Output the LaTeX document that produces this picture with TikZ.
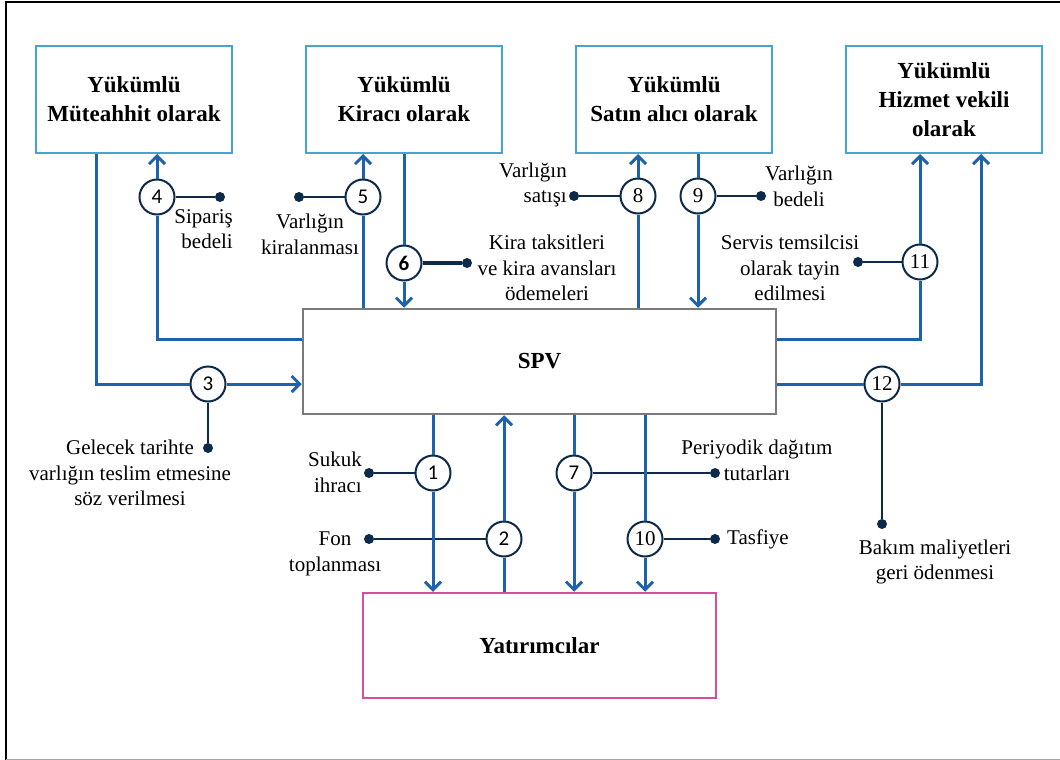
\documentclass[tikz,border=0pt]{standalone}
\usepackage{fontspec}
\setmainfont{Liberation Serif}
\newfontfamily\numsans{Carlito}
\usetikzlibrary{arrows.meta,positioning}
\definecolor{flowc}{RGB}{30,98,172}
\definecolor{navyc}{RGB}{14,42,74}
\definecolor{partyc}{RGB}{70,165,208}
\definecolor{spvc}{RGB}{122,122,122}
\definecolor{invc}{RGB}{216,78,158}

\begin{document}
\begin{tikzpicture}[x=1pt,y=-1pt,>={Straight Barb[length=8pt,width=16pt]},font=\fontsize{21}{25.5}\selectfont]
\tikzstyle{party}=[draw=partyc,line width=2pt,minimum width=196pt,minimum height=107pt,align=center,font=\fontsize{23}{29}\selectfont\bfseries]
\tikzstyle{flw}=[flowc,line width=3pt]
\tikzstyle{num}=[circle,draw=navyc,line width=2pt,minimum size=35pt,inner sep=0pt,font=\fontsize{21}{21}\selectfont]
\tikzstyle{numsf}=[num,font=\numsans\fontsize{21}{21}\selectfont]
\tikzstyle{pin}=[navyc,line width=1.8pt]
\tikzstyle{dot}=[circle,fill=navyc,inner sep=0pt,minimum size=10pt]
\tikzstyle{lbl}=[align=center,inner sep=0pt]
\useasboundingbox (0,0) rectangle (1060,760);
\draw[line width=2.5pt] (6,760) -- (6,2) -- (1060,2);
\draw[black!35,line width=1pt] (6,759) -- (1060,759);
% parties
\node[party] (a) at (134,99.5) {Yükümlü\\Müteahhit olarak};
\node[party] (b) at (404,99.5) {Yükümlü\\Kiracı olarak};
\node[party] (c) at (674,99.5) {Yükümlü\\Satın alıcı olarak};
\node[party] (d) at (944,99.5) {Yükümlü\\Hizmet vekili\\olarak};
\node[draw=spvc,line width=2.5pt,minimum width=473pt,minimum height=105pt,font=\fontsize{23}{29}\selectfont\bfseries] (s) at (539.5,361.5) {SPV};
\node[draw=invc,line width=2.5pt,minimum width=353pt,minimum height=105pt,font=\fontsize{23}{29}\selectfont\bfseries] (y) at (539.5,645.5) {Yatırımcılar};
% numbered steps
\node[numsf] (c1) at (433,473) {1};
\node[numsf] (c2) at (504,539) {2};
\node[numsf] (c3) at (208,384) {3};
\node[numsf] (c4) at (157,197) {4};
\node[numsf] (c5) at (363,197) {5};
\node[numsf,font=\numsans\bfseries\fontsize{21}{21}\selectfont] (c6) at (404,263) {6};
\node[numsf] (c7) at (574,473) {7};
\node[num] (c8) at (638,196) {8};
\node[num] (c9) at (698,196) {9};
\node[num] (c10) at (645,539) {10};
\node[num] (c11) at (920,262) {11};
\node[num] (c12) at (882,384) {12};
% pins
\node[dot] (d1) at (369,473) {};
\node[dot] (d2) at (369,539) {};
\node[dot] (d3) at (208,448) {};
\node[dot] (d4) at (220,197) {};
\node[dot] (d5) at (299,197) {};
\node[dot] (d6) at (467,263) {};
\node[dot] (d7) at (715,473) {};
\node[dot] (d8) at (574,196) {};
\node[dot] (d9) at (761,196) {};
\node[dot] (d10) at (715,539) {};
\node[dot] (d11) at (858,262) {};
\node[dot] (d12) at (882,524) {};
\foreach \i in {1,2,3,4,5,7,8,9,10,11,12} \draw[pin] (c\i) -- (d\i);
\draw[pin,line width=3.5pt] (c6) -- (d6);
% labels
\node[lbl,align=right,anchor=east] (l1) at (362,472.5) {Sukuk\\ihracı};
\node[lbl] (l2) at (335,554) {Fon\\toplanması};
\node[lbl] (l3) at (130,473) {Gelecek tarihte\\varlığın teslim etmesine\\söz verilmesi};
\node[lbl,align=right,anchor=east] (l4) at (233,229) {Sipariş\\bedeli};
\node[lbl] (l5) at (310,234.5) {Varlığın\\kiralanması};
\node[lbl] (l6) at (547,268) {Kira taksitleri\\ve kira avansları\\ödemeleri};
\node[lbl] (l7) at (757,460.5) {Periyodik dağıtım\\tutarları};
\node[lbl,align=right,anchor=east] (l8) at (567,185) {Varlığın\\satışı};
\node[lbl] (l9) at (799,186.5) {Varlığın\\bedeli};
\node[lbl,anchor=west] (l10) at (727,539) {Tasfiye};
\node[lbl] (l11) at (790,268) {Servis temsilcisi\\olarak tayin\\edilmesi};
\node[lbl] (l12) at (935,562) {Bakım maliyetleri\\geri ödenmesi};
% flows
\draw[flw] ([xshift=-38pt]a.south) |- (c3);
\draw[flw,->] (c3) -- (c3 -| s.west);
\draw[flw] ([yshift=22.5pt]s.west) -| (c4);
\draw[flw,->] (c4) -- (c4 |- a.south);
\draw[flw] (c5 |- s.north) -- (c5);
\draw[flw,->] (c5) -- (c5 |- b.south);
\draw[flw] (b.south) -- (c6);
\draw[flw,->] (c6) -- (c6 |- s.north);
\draw[flw] (c8 |- s.north) -- (c8);
\draw[flw,->] (c8) -- (c8 |- c.south);
\draw[flw] (c9 |- c.south) -- (c9);
\draw[flw,->] (c9) -- (c9 |- s.north);
\draw[flw] ([yshift=22.5pt]s.east) -| (c11);
\draw[flw,->] (c11) -- (c11 |- d.south);
\draw[flw] ([yshift=-22.5pt]s.east) -- (c12);
\draw[flw,->] (c12) -| ([xshift=37pt]d.south);
\draw[flw] (c1 |- s.south) -- (c1);
\draw[flw,->] (c1) -- (c1 |- y.north);
\draw[flw] (c2 |- y.north) -- (c2);
\draw[flw,->] (c2) -- (c2 |- s.south);
\draw[flw] (c7 |- s.south) -- (c7);
\draw[flw,->] (c7) -- (c7 |- y.north);
\draw[flw] (c10 |- s.south) -- (c10);
\draw[flw,->] (c10) -- (c10 |- y.north);
\end{tikzpicture}
\end{document}
